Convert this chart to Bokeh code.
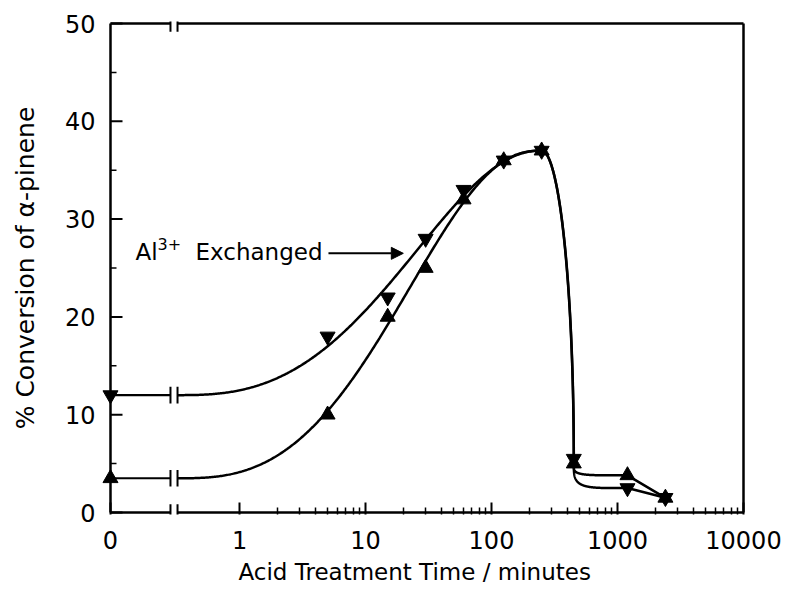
import numpy as np
from bokeh.plotting import figure
from bokeh.models import FixedTicker, Range1d, Label, Arrow, NormalHead, Title
from bokeh.embed import file_html
from bokeh.resources import INLINE

# Acid treatment time in minutes (0 = untreated clay)
time_min = [0, 5, 15, 30, 60, 125, 250, 450, 1200, 2400]
# % conversion of alpha-pinene
conv_al = [12.0, 18.0, 22.0, 28.0, 33.0, 36.0, 37.0, 5.5, 2.5, 1.5]   # Al3+ exchanged
conv_raw = [3.5, 10.0, 20.0, 25.0, 32.0, 36.0, 37.0, 5.0, 3.8, 1.5]  # second series
x_tick_labels = ["0", "1", "10", "100", "1000", "10000"]
y_ticks = [0, 10, 20, 30, 40, 50]
y_minor = [5, 15, 25, 35, 45]

# Broken log axis: t = 0 sits about one decade left of t = 1
ZERO_POS = -1.024
BREAK_POS = -0.52
GAP = 0.028
BAR = 0.85
X_MAX, Y_MAX = 4.0, 50.0
FONT = "DejaVu Sans"
PX_X, PX_Y = 126.0, 9.78   # pixels per data unit


def xpos(t):
    t = np.asarray(t, float)
    out = np.full(t.shape, ZERO_POS)
    nz = t > 0
    out[nz] = np.log10(t[nz])
    return out


def rise_shape(s, a, b):
    # Kumaraswamy-type step: flat at both ends for a, b > 1, always monotone
    return 1 - (1 - np.clip(s, 0, 1) ** a) ** b


def rising_fit(u0, y0, u, y, upk, ypk, xs):
    span = upk - u0
    s = (np.asarray(u) - u0) / span
    w = (np.asarray(y) - y0) / (ypk - y0)
    grid = np.arange(1.05, 8.0, 0.025)
    A, B = np.meshgrid(grid, grid, indexing="ij")
    err = np.zeros_like(A)
    for si, wi in zip(s, w):
        err += (rise_shape(si, A, B) - wi) ** 2
    i, j = np.unravel_index(np.argmin(err), err.shape)
    return y0 + (ypk - y0) * rise_shape((xs - u0) / span, A[i, j], B[i, j])


def fitted_curve(t, y):
    u = xpos(t)
    y = np.asarray(y, float)
    ipk = int(np.argmax(y))
    ustart = BREAK_POS + GAP
    xs = np.linspace(ustart, u[ipk], 300)
    cx = [xs]
    cy = [rising_fit(ustart, y[0], u[1:ipk], y[1:ipk], u[ipk], y[ipk], xs)]
    th = np.linspace(0, np.pi / 2, 120)
    # collapse after the maximum: flat at the top, vertical at the bottom
    du, dy = u[ipk + 1] - u[ipk], y[ipk] - y[ipk + 1]
    cx.append(u[ipk] + du * np.sin(th))
    cy.append(y[ipk + 1] + dy * np.cos(th))
    # tight bend into the long-time plateau
    n = 5.0
    du, dy = u[ipk + 2] - u[ipk + 1], y[ipk + 1] - y[ipk + 2]
    cx.append(u[ipk + 1] + du * (1 - np.cos(th) ** (2 / n)))
    cy.append(y[ipk + 2] + dy * (1 - np.sin(th) ** (2 / n)))
    cx.append(u[ipk + 2:])
    cy.append(y[ipk + 2:])
    return np.concatenate(cx), np.concatenate(cy)


# ranges padded so the t = 0 markers and the box lines are not cut at the frame edge
PAD_L, PAD_R, PAD_B, PAD_T = 12 / PX_X, 2 / PX_X, 2 / PX_Y, 2 / PX_Y
p = figure(width=786, height=591, output_backend="svg", toolbar_location=None,
           x_range=Range1d(ZERO_POS - PAD_L, X_MAX + PAD_R),
           y_range=Range1d(-PAD_B, Y_MAX + PAD_T),
           min_border_left=98, min_border_right=41, min_border_top=21, min_border_bottom=77)
p.outline_line_color = None
p.grid.visible = False
p.background_fill_color = "white"
p.border_fill_color = "white"

major_x = [ZERO_POS, 0, 1, 2, 3, 4]
minor_x = [float(np.log10(k * 10**d)) for d in range(4) for k in range(2, 10)]
p.xaxis.ticker = FixedTicker(ticks=major_x, minor_ticks=minor_x)
p.xaxis.major_label_overrides = {k: v for k, v in zip(major_x, x_tick_labels)}
p.yaxis.ticker = FixedTicker(ticks=y_ticks, minor_ticks=y_minor)

for ax in (p.xaxis[0], p.yaxis[0]):
    ax.axis_line_color = None
    ax.major_tick_out = 0
    ax.minor_tick_out = 0
    ax.major_tick_line_width = 2
    ax.minor_tick_line_width = 1.5
    ax.major_tick_line_color = "black"
    ax.minor_tick_line_color = "black"
    ax.major_label_text_font = FONT
    ax.major_label_text_font_size = "24px"
    ax.major_label_text_color = "black"
    ax.axis_label_text_font = FONT
    ax.axis_label_text_font_style = "normal"
    ax.axis_label_text_color = "black"

p.xaxis.major_tick_in = 12
p.xaxis.minor_tick_in = 7
p.xaxis.major_label_standoff = 16

# y ticks are drawn on the box line itself (the frame edge sits left of it)
p.yaxis.major_tick_line_color = None
p.yaxis.minor_tick_line_color = None
p.yaxis.major_tick_in = 0
p.yaxis.minor_tick_in = 0
p.yaxis.major_label_standoff = 3
p.yaxis.axis_label = "% Conversion of α-pinene"
p.yaxis.axis_label_text_font_size = "25px"
p.yaxis.axis_label_standoff = 22

p.segment([ZERO_POS] * len(y_ticks), y_ticks, [ZERO_POS + 12 / PX_X] * len(y_ticks), y_ticks,
          line_color="black", line_width=2)
p.segment([ZERO_POS] * len(y_minor), y_minor, [ZERO_POS + 6 / PX_X] * len(y_minor), y_minor,
          line_color="black", line_width=1.5)

# x axis title, starting under the "1" decade
p.add_layout(Title(text="Acid Treatment Time / minutes", align="left", offset=140, standoff=10,
                   text_font=FONT, text_font_size="23px", text_font_style="normal",
                   text_color="black"), "below")

# box with the axis break on top and bottom
fx0 = [ZERO_POS, X_MAX, ZERO_POS, BREAK_POS + GAP, ZERO_POS, BREAK_POS + GAP]
fx1 = [ZERO_POS, X_MAX, BREAK_POS - GAP, X_MAX, BREAK_POS - GAP, X_MAX]
fy0 = [0, 0, 0, 0, Y_MAX, Y_MAX]
fy1 = [Y_MAX, Y_MAX, 0, 0, Y_MAX, Y_MAX]
p.segment(fx0, fy0, fx1, fy1, line_color="black", line_width=2.5)
for yb in (0, Y_MAX):
    p.segment([BREAK_POS - GAP, BREAK_POS + GAP], [yb - BAR] * 2,
              [BREAK_POS - GAP, BREAK_POS + GAP], [yb + BAR] * 2,
              line_color="black", line_width=2)

# fitted curves, each with its own break on the t = 0 run
for conv in (conv_al, conv_raw):
    cx, cy = fitted_curve(time_min, conv)
    p.line(cx, cy, line_color="black", line_width=2.5)
    p.segment([ZERO_POS], [conv[0]], [BREAK_POS - GAP], [conv[0]], line_color="black", line_width=2.2)
    p.segment([BREAK_POS - GAP, BREAK_POS + GAP], [conv[0] - BAR] * 2,
              [BREAK_POS - GAP, BREAK_POS + GAP], [conv[0] + BAR] * 2,
              line_color="black", line_width=2)

p.scatter(xpos(time_min), conv_al, marker="inverted_triangle", size=15, color="black")
p.scatter(xpos(time_min), conv_raw, marker="triangle", size=15, color="black")

# annotation for the Al3+ exchanged curve
p.add_layout(Label(x=-0.825, y=26.6, text="Al", text_font=FONT, text_font_size="23px",
                   text_baseline="alphabetic", text_color="black"))
p.add_layout(Label(x=-0.65, y=27.5, text="3+", text_font=FONT, text_font_size="16px",
                   text_baseline="alphabetic", text_color="black"))
p.add_layout(Label(x=-0.349, y=26.6, text="Exchanged", text_font=FONT, text_font_size="23px",
                   text_baseline="alphabetic", text_color="black"))
p.add_layout(Arrow(end=NormalHead(size=12, fill_color="black", line_color="black"),
                   x_start=0.706, y_start=26.5, x_end=1.30, y_end=26.5,
                   line_color="black", line_width=2))

open("out.html", "w").write(file_html(p, INLINE))
